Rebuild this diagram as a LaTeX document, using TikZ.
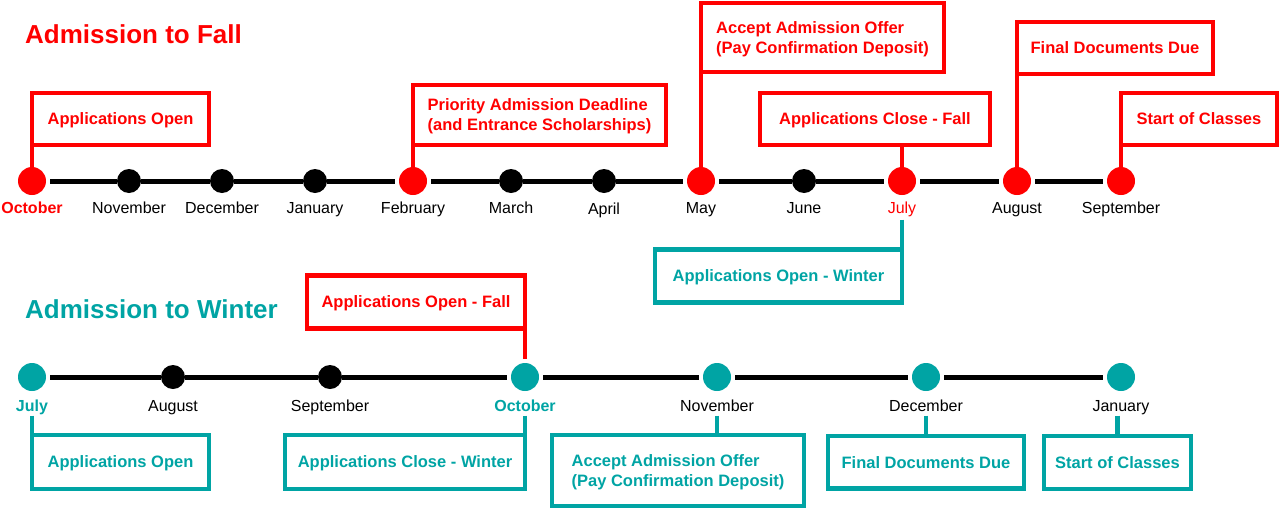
\documentclass[tikz,border=0pt]{standalone}
\usepackage{fontspec}
\setmainfont{Liberation Sans}
\usetikzlibrary{calc}
\definecolor{fallred}{RGB}{255,0,0}
\definecolor{wteal}{RGB}{0,164,164}
\begin{document}
\begin{tikzpicture}[x=1pt,y=-1pt,
  tl/.style={line width=5pt, draw=black},
  mdot/.style={circle, fill=black, minimum size=24pt, inner sep=0pt, outer sep=0pt},
  kdot/.style={circle, fill=#1, minimum size=28pt, inner sep=0pt, outer sep=4pt},
  mon/.style={anchor=base, font=\fontsize{16}{19}\selectfont, inner sep=1pt, text depth=3.5pt},
  monk/.style={mon, text=#1, font=\fontsize{16}{19}\selectfont\bfseries},
  box/.style={draw=#1, line width=4.3pt, outer sep=0pt, inner sep=0pt, align=left, text=#1, text depth=0pt, font=\fontsize{16.5}{20}\selectfont\bfseries},
  stem/.style={draw=#1, line width=4.3pt},
  title/.style={anchor=base west, font=\fontsize{26}{30}\selectfont\bfseries, inner sep=0pt, text=#1},
]
\useasboundingbox (0,0) rectangle (1280,509);

% titles
\node[title=fallred] (tFall) at (25,43) {Admission to Fall};
\node[title=wteal] (tWin) at (25,318) {Admission to Winter};

% ---------- Fall timeline ----------
\node[kdot=fallred] (oct) at (32,181) {};
\node[mdot] (nov) at (129,181) {};
\node[mdot] (dec) at (222,181) {};
\node[mdot] (jan) at (315,181) {};
\node[kdot=fallred] (feb) at (413,181) {};
\node[mdot] (mar) at (511,181) {};
\node[mdot] (apr) at (604,181) {};
\node[kdot=fallred] (may) at (701,181) {};
\node[mdot] (jun) at (804,181) {};
\node[kdot=fallred] (jul) at (902,181) {};
\node[kdot=fallred] (aug) at (1017,181) {};
\node[kdot=fallred] (sep) at (1121,181) {};
\foreach \a/\b in {oct/nov,nov/dec,dec/jan,jan/feb,feb/mar,mar/apr,apr/may,may/jun,jun/jul,jul/aug,aug/sep}
  \draw[tl] (\a) -- (\b);

\node[monk=fallred] (octL) at (32,213) {October};
\node[mon] (novL) at (129,213) {November};
\node[mon] (decL) at (222,213) {December};
\node[mon] (janL) at (315,213) {January};
\node[mon] (febL) at (413,213) {February};
\node[mon] (marL) at (511,213) {March};
\node[mon] (aprL) at (604,214) {April};
\node[mon] (mayL) at (701,213) {May};
\node[mon] (junL) at (804,213) {June};
\node[mon, text=fallred] (julL) at (902,213) {July};
\node[mon] (augL) at (1017,213) {August};
\node[mon] (sepL) at (1121,213) {September};

\node[box=fallred, minimum width=177pt, minimum height=52pt] (bOpen) at (120.5,119) {Applications Open};
\node[box=fallred, minimum width=253pt, minimum height=60pt] (bPrio) at (539.5,115) {Priority Admission Deadline\\(and Entrance Scholarships)};
\node[box=fallred, minimum width=243pt, minimum height=69pt] (bAcc) at (822.5,37.5) {Accept Admission Offer\\(Pay Confirmation Deposit)};
\node[box=fallred, minimum width=230pt, minimum height=52pt] (bClose) at (875,119) {Applications Close - Fall};
\node[box=fallred, minimum width=196pt, minimum height=52pt] (bFinal) at (1115,48) {Final Documents Due};
\node[box=fallred, minimum width=156pt, minimum height=52pt] (bStart) at (1199,119) {Start of Classes};

\draw[stem=fallred, shorten >=-4pt] (bOpen.south west) -- (oct.north);
\draw[stem=fallred, shorten >=-4pt] (bPrio.south west) -- (feb.north);
\draw[stem=fallred, shorten >=-4pt] (bAcc.south west) -- (may.north);
\draw[stem=fallred, shorten >=-4pt] (jul.north |- bClose.south) -- (jul.north);
\draw[stem=fallred, shorten >=-4pt] (bFinal.south west) -- (aug.north);
\draw[stem=fallred, shorten >=-4pt] (bStart.south west) -- (sep.north);

\node[box=wteal, minimum width=247pt, minimum height=53pt] (bWin) at (778.5,276) {Applications Open - Winter};
\draw[stem=wteal, shorten <=2pt] (julL.south) -- (bWin.north east);

% ---------- Winter timeline ----------
\node[kdot=wteal] (wjul) at (32,377) {};
\node[mdot] (waug) at (173,377) {};
\node[mdot] (wsep) at (330,377) {};
\node[kdot=wteal] (woct) at (525,377) {};
\node[kdot=wteal] (wnov) at (717,377) {};
\node[kdot=wteal] (wdec) at (926,377) {};
\node[kdot=wteal] (wjan) at (1121,377) {};
\foreach \a/\b in {wjul/waug,waug/wsep,wsep/woct,woct/wnov,wnov/wdec,wdec/wjan}
  \draw[tl] (\a) -- (\b);

\node[monk=wteal] (wjulL) at (32,411) {July};
\node[mon] (waugL) at (173,411) {August};
\node[mon] (wsepL) at (330,411) {September};
\node[monk=wteal] (woctL) at (525,411) {October};
\node[mon] (wnovL) at (717,411) {November};
\node[mon] (wdecL) at (926,411) {December};
\node[mon] (wjanL) at (1121,411) {January};

\node[box=fallred, minimum width=218pt, minimum height=53pt] (bOF) at (416,302) {Applications Open - Fall};
\draw[stem=fallred] (bOF.south east) -- (woct.north);

\node[box=wteal, minimum width=177pt, minimum height=53.5pt] (bWOpen) at (120.5,462) {Applications Open};
\node[box=wteal, minimum width=240pt, minimum height=53.5pt] (bWClose) at (405,462) {Applications Close - Winter};
\node[box=wteal, minimum width=252pt, minimum height=71pt] (bWAcc) at (678,470.5) {Accept Admission Offer\\(Pay Confirmation Deposit)};
\node[box=wteal, minimum width=196pt, minimum height=52.5pt] (bWFinal) at (926,462.2) {Final Documents Due};
\node[box=wteal, minimum width=147pt, minimum height=53pt] (bWStart) at (1117.5,462.5) {Start of Classes};

\draw[stem=wteal] (wjulL.south) -- (bWOpen.north west);
\draw[stem=wteal] (woctL.south) -- (bWClose.north east);
\draw[stem=wteal] (wnovL.south) -- (wnovL.south |- bWAcc.north);
\draw[stem=wteal] (wdecL.south) -- (bWFinal.north);
\draw[stem=wteal] (bWStart.north |- wjanL.south) -- (bWStart.north);
\end{tikzpicture}
\end{document}
